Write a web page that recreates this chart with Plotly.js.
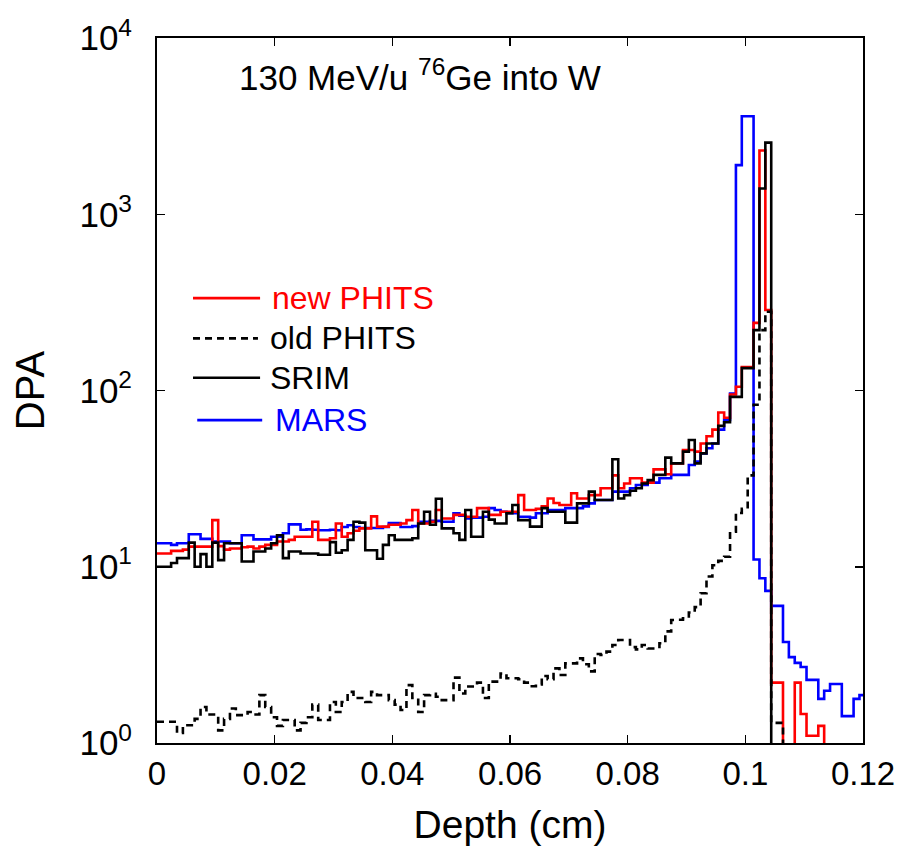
<!DOCTYPE html>
<html>
<head>
<meta charset="utf-8">
<script src="https://cdn.plot.ly/plotly-3.0.1.min.js"></script>
<style>html,body{margin:0;padding:0;background:#fff;}#chart{width:907px;height:846px;}</style>
</head>
<body>
<div id="chart"></div>
<script>
// Histogram bins: width 0.001 cm (first bin starts at 0)
const binWidth = 0.001;
const binOffset = 0.0004;

const xTickVals = [0, 0.02, 0.04, 0.06, 0.08, 0.1, 0.12];
const xTickText = ['0', '0.02', '0.04', '0.06', '0.08', '0.1', '0.12'];
const yTickVals = [1, 10, 100, 1000, 10000];
const yTickText = ['10<sup>0</sup>', '10<sup>1</sup>', '10<sup>2</sup>', '10<sup>3</sup>', '10<sup>4</sup>'];

const seriesNames = ['new PHITS', 'old PHITS', 'SRIM', 'MARS'];

// DPA per depth bin (0 = empty bin)
const marsDPA = [
  13.6, 13.6, 13.3, 13.6, 13.6, 15.3, 15.3, 14.4, 14.4, 13.9,
  13.9, 13.9, 13.6, 13.6, 15.1, 15.1, 14.3, 14.3, 14.3, 14.8,
  14.8, 15.5, 17.4, 17.4, 16.2, 16.3, 16.2, 16.1, 16.1, 16.2,
  16.1, 16.8, 17.2, 16.8, 16.6, 16.6, 16.6, 16.6, 16.8, 17.7,
  17.7, 16.8, 16.8, 17.0, 18.0, 18.0, 18.2, 18.2, 18.0, 18.0,
  20.1, 19.5, 18.8, 19.0, 19.0, 19.2, 21.5, 21.0, 20.5, 20.1,
  20.1, 19.2, 19.2, 19.0, 20.1, 20.1, 21.0, 21.0, 21.0, 21.5,
  21.5, 21.5, 22.0, 22.9, 23.9, 23.9, 23.9, 26.7, 26.7, 26.7,
  27.9, 29.1, 29.1, 30.0, 30.0, 31.8, 31.8, 33.2, 33.2, 33.2,
  37.8, 39.5, 44, 47, 50, 60, 68, 96, 1900, 3600,
  3600, 11, 8.6, 7.3, 6.0, 6.0, 3.74, 3.07, 2.85, 2.7,
  2.28, 2.28, 1.78, 1.98, 2.16, 2.16, 1.42, 1.42, 1.78, 1.87
];

const newPhitsDPA = [
  11.9, 11.9, 12.3, 12.3, 12.5, 13.0, 13.0, 13.0, 13.0, 18.4,
  13.1, 12.5, 12.7, 12.7, 12.9, 13.0, 12.7, 13.0, 13.3, 13.3,
  13.9, 13.9, 14.2, 14.8, 14.8, 14.8, 18.0, 14.2, 14.2, 14.5,
  17.6, 14.8, 15.5, 16.0, 16.5, 16.5, 19.3, 16.9, 16.9, 17.3,
  17.3, 17.6, 18.4, 21.0, 17.6, 17.6, 18.0, 21.0, 18.8, 18.8,
  19.7, 19.7, 19.2, 19.2, 21.5, 21.5, 19.7, 19.7, 20.5, 20.5,
  20.5, 25.5, 21.0, 21.0, 21.3, 22.0, 24.4, 23.0, 22.4, 22.4,
  26.1, 24.4, 24.4, 25.5, 25.5, 27.9, 27.9, 33.0, 27.9, 29.7,
  31.8, 31.8, 30.0, 30.0, 35.7, 35.7, 33.5, 38.6, 38.6, 46,
  46, 45, 50, 55, 60, 75, 70, 95, 105, 136,
  136, 242, 2300, 286, 2.2, 2.2, 0, 0, 2.2, 1.46,
  1.1, 1.1, 1.25, 0
];

const srimDPA = [
  10.0, 10.0, 10.5, 11.2, 11.2, 13.7, 10.0, 11.8, 10.0, 13.7,
  10.9, 13.6, 13.6, 13.6, 10.7, 10.7, 12.2, 12.2, 12.7, 13.6,
  15.1, 11.2, 12.2, 12.2, 11.9, 11.9, 11.9, 11.7, 11.7, 13.8,
  12.0, 12.4, 14.2, 18.0, 17.8, 12.4, 12.4, 11.1, 13.3, 15.1,
  14.2, 14.2, 14.2, 14.5, 17.6, 20.5, 17.3, 24.3, 16.5, 16.5,
  15.5, 14.2, 21.0, 14.8, 14.8, 20.5, 18.5, 17.6, 17.6, 20.1,
  22.4, 18.4, 18.4, 16.9, 16.9, 21.5, 20.5, 20.5, 20.5, 17.8,
  17.8, 22.9, 22.9, 26.7, 23.9, 23.9, 23.9, 40.7, 24.4, 25.5,
  27.0, 27.9, 29.7, 31.0, 33.2, 33.2, 41.6, 38.6, 38.6, 45,
  52.4, 38.6, 44, 50, 50, 63, 66, 92, 92, 134,
  134, 220, 1400, 2550, 0
];

const oldPhitsDPA = [
  1.32, 1.32, 1.32, 1.14, 1.26, 1.26, 1.37, 1.6, 1.45, 1.45,
  1.18, 1.37, 1.57, 1.44, 1.44, 1.5, 1.45, 1.87, 1.6, 1.4,
  1.25, 1.35, 1.35, 1.18, 1.3, 1.4, 1.65, 1.35, 1.35, 1.71,
  1.5, 1.71, 1.95, 1.8, 1.8, 1.71, 1.95, 1.87, 1.87, 1.75,
  1.65, 1.54, 2.13, 1.8, 1.5, 1.87, 1.9, 1.83, 1.75, 1.75,
  2.35, 1.91, 2.09, 2.09, 2.2, 1.8, 2.23, 2.23, 2.48, 2.33,
  2.33, 2.3, 2.2, 2.1, 2.15, 2.4, 2.3, 2.65, 2.43, 2.83,
  2.83, 3.02, 2.8, 2.55, 3.2, 3.16, 3.3, 3.6, 3.84, 3.84,
  3.5, 3.4, 3.6, 3.44, 3.44, 3.68, 4.3, 4.99, 5.0, 5.1,
  5.5, 5.9, 7.07, 8.8, 10.2, 10.8, 11.4, 15.8, 20.2, 21.3,
  33, 83, 220, 280, 1.3, 1.3, 0
];

const colors = {newPhits: '#ff0000', oldPhits: '#000000', srim: '#000000', mars: '#0000ff'};

function histTrace(vals, name, color, dash) {
  const xs = [], ys = [];
  const floor = 1e-3; // empty bin: drawn below the axis
  vals.forEach((v, k) => {
    xs.push(k === 0 ? 0 : binOffset + k * binWidth);
    ys.push(v > 0 ? v : floor);
  });
  xs.push(binOffset + vals.length * binWidth);
  ys.push(ys[ys.length - 1]);
  return {
    x: xs, y: ys, name: name, type: 'scatter', mode: 'lines',
    line: {shape: 'hv', color: color, width: 2.6, dash: dash || 'solid'},
    showlegend: false, hoverinfo: 'skip'
  };
}

const traces = [
  histTrace(marsDPA, seriesNames[3], colors.mars),
  histTrace(newPhitsDPA, seriesNames[0], colors.newPhits),
  histTrace(oldPhitsDPA, seriesNames[1], colors.oldPhits, '7px,5px'),
  histTrace(srimDPA, seriesNames[2], colors.srim)
];

const fontFam = 'Liberation Sans, Arial, Helvetica, sans-serif';

// custom legend (line sample + label)
const legendItems = [
  {name: seriesNames[0], color: colors.newPhits, dash: 'solid', x0: 0.051, x1: 0.146, y: 0.631, tx: 0.160},
  {name: seriesNames[1], color: '#000000', dash: '7px,5px', x0: 0.051, x1: 0.143, y: 0.574, tx: 0.157},
  {name: seriesNames[2], color: '#000000', dash: 'solid', x0: 0.051, x1: 0.146, y: 0.518, tx: 0.157},
  {name: seriesNames[3], color: colors.mars, dash: 'solid', x0: 0.057, x1: 0.149, y: 0.458, tx: 0.164}
];

const shapes = legendItems.map(it => ({
  type: 'line', xref: 'paper', yref: 'paper', x0: it.x0, x1: it.x1, y0: it.y, y1: it.y,
  line: {color: it.color, width: 2.6, dash: it.dash}
}));

const annotations = legendItems.map(it => ({
  xref: 'paper', yref: 'paper', x: it.tx, y: it.y, xanchor: 'left', yanchor: 'middle',
  text: it.name, showarrow: false, font: {family: fontFam, size: 32, color: it.color}
}));

annotations.push({
  xref: 'paper', yref: 'paper', x: 0.113, y: 0.948, xanchor: 'left', yanchor: 'middle',
  text: '130 MeV/u <sup>76</sup>Ge into W', showarrow: false,
  font: {family: fontFam, size: 35, color: '#000'}
});

const axisCommon = {
  showgrid: false, zeroline: false, showline: true, linecolor: '#000', linewidth: 2,
  mirror: 'ticks', ticks: 'inside', ticklen: 8, tickwidth: 1.5, tickcolor: '#000'
};

const layout = {
  width: 907, height: 846,
  margin: {l: 157, r: 44, t: 38, b: 103},
  paper_bgcolor: '#fff', plot_bgcolor: '#fff',
  font: {family: fontFam, color: '#000'},
  xaxis: Object.assign({}, axisCommon, {
    range: [0, 0.12], tickmode: 'array', tickvals: xTickVals, ticktext: xTickText,
    tickfont: {family: fontFam, size: 33, color: '#000'},
    title: {text: 'Depth (cm)', font: {family: fontFam, size: 39, color: '#000'}, standoff: 22}
  }),
  yaxis: Object.assign({}, axisCommon, {
    type: 'log', range: [0, 4], tickmode: 'array', tickvals: yTickVals, ticktext: yTickText,
    tickfont: {family: fontFam, size: 35, color: '#000'}, ticklabelstandoff: 16,
    title: {text: 'DPA', font: {family: fontFam, size: 40, color: '#000'}, standoff: 22}
  }),
  shapes: shapes,
  annotations: annotations,
  showlegend: false
};

Plotly.newPlot('chart', traces, layout, {displayModeBar: false, staticPlot: true});
</script>
</body>
</html>
